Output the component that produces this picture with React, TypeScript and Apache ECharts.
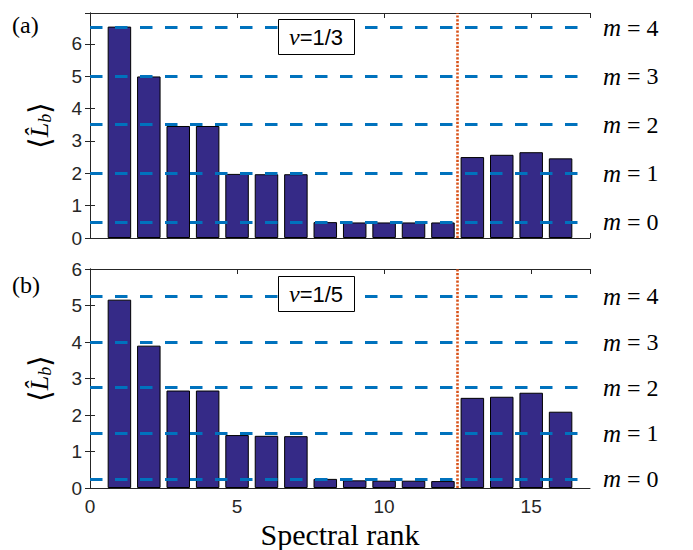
import React, { useEffect, useRef } from "react";
import * as echarts from "echarts";

const ranks = [1, 2, 3, 4, 5, 6, 7, 8, 9, 10, 11, 12, 13, 14, 15, 16];
const valuesA = [6.53, 4.99, 3.46, 3.46, 1.98, 1.97, 1.97, 0.49, 0.48, 0.48, 0.48, 0.48, 2.5, 2.57, 2.65, 2.46];
const valuesB = [5.16, 3.9, 2.67, 2.67, 1.45, 1.43, 1.42, 0.25, 0.21, 0.2, 0.2, 0.19, 2.47, 2.5, 2.61, 2.09];
const levelsA = [0.5, 2, 3.5, 5, 6.5];
const levelsB = [0.25, 1.5, 2.75, 4, 5.25];
const mValues = [0, 1, 2, 3, 4];
const cutoff = 12.5;
const panelLabels = ["(a)", "(b)"];
const nuLabels = ["1/3", "1/5"];
const xName = "Spectral rank";

const AXIS = "#262626";
const BAR = "#352A87";
const BLUE = "#0072BD";
const RED = "#D95319";
const SANS = "Liberation Sans, Arial, sans-serif";
const SERIF = "Liberation Serif, DejaVu Serif, serif";

export default function App() {
  const ref = useRef<HTMLDivElement>(null);
  useEffect(() => {
    const chart = echarts.init(ref.current!, null, { renderer: "svg" });
    const grids = [
      { left: 90, right: 103, top: 13, height: 225 },
      { left: 90, right: 103, top: 269, height: 225 },
    ];
    const yMax = [6.95, 6];
    const mkX = (gi: number, pos: "bottom" | "top", labels: boolean) => ({
      type: "value",
      gridIndex: gi,
      position: pos,
      min: 0,
      max: 17,
      interval: 5,
      axisLine: { show: true, onZero: false, lineStyle: { color: AXIS, width: 1 } },
      axisTick: { show: true, inside: true, length: 5, lineStyle: { color: AXIS } },
      axisLabel: {
        show: labels,
        showMaxLabel: false,
        color: AXIS,
        fontFamily: SANS,
        fontSize: 19,
        margin: 9,
      },
      splitLine: { show: false },
      ...(labels && gi === 1
        ? {
            name: xName,
            nameLocation: "middle",
            nameGap: 31,
            nameTextStyle: { fontFamily: SERIF, fontSize: 30, color: "#000" },
          }
        : {}),
    });
    const mkY = (gi: number, pos: "left" | "right", labels: boolean) => ({
      type: "value",
      gridIndex: gi,
      position: pos,
      min: 0,
      max: yMax[gi],
      interval: 1,
      axisLine: { show: true, lineStyle: { color: AXIS, width: 1 } },
      axisTick: { show: true, inside: true, length: 5, lineStyle: { color: AXIS } },
      axisLabel: {
        show: labels,
        showMaxLabel: gi === 1,
        color: AXIS,
        fontFamily: SANS,
        fontSize: 19,
        margin: 8,
      },
      splitLine: { show: false },
      ...(labels
        ? {
            name: "{b|⟨}{L|L̂}{s|b}{b|⟩}",
            nameLocation: "middle",
            nameRotate: 90,
            nameGap: 36,
            nameTextStyle: {
              color: "#000",
              rich: {
                b: { fontFamily: "DejaVu Sans, sans-serif", fontWeight: 200, fontSize: 30, color: "#000" },
                L: { fontFamily: SERIF, fontStyle: "italic", fontSize: 26, color: "#000" },
                s: { fontFamily: SERIF, fontStyle: "italic", fontSize: 18, color: "#000", verticalAlign: "bottom", padding: [10, 0, 0, 0] },
              },
            },
          }
        : {}),
    });
    const mkSeries = (gi: number, vals: number[], levels: number[]) => ({
      type: "bar",
      xAxisIndex: gi * 2,
      yAxisIndex: gi * 2,
      data: ranks.map((r, i) => [r, vals[i]]),
      barWidth: 23.5,
      itemStyle: { color: BAR, borderColor: "#000", borderWidth: 1 },
      markLine: {
        silent: true,
        symbol: "none",
        animation: false,
        data: [
          ...levels.map((lv, i) => ({
            yAxis: lv,
            lineStyle: { color: BLUE, width: 2.8, type: [12.5, 12.5] },
            label: {
              show: true,
              position: "end",
              distance: 13,
              formatter: "{i|m}{t| = " + mValues[i] + "}",
              color: "#000",
              rich: {
                i: { fontFamily: SERIF, fontStyle: "italic", fontSize: 25, color: "#000" },
                t: { fontFamily: SERIF, fontSize: 24, color: "#000" },
              },
            },
          })),
          {
            xAxis: cutoff,
            lineStyle: { color: RED, width: 2.6, type: [2.2, 1.6] },
            label: { show: false },
          },
        ],
      },
    });
    const nuTitle = (i: number, top: number) => ({
      text: "{n|ν}{t|=" + nuLabels[i] + "}",
      left: 278,
      top,
      borderColor: "#000",
      borderWidth: 1,
      backgroundColor: "#fff",
      padding: [6, 12, 6, 11],
      textStyle: {
        fontWeight: "normal",
        rich: {
          n: { fontFamily: SERIF, fontStyle: "italic", fontWeight: "normal", fontSize: 24, color: "#000" },
          t: { fontFamily: SANS, fontWeight: "normal", fontSize: 22, color: "#000" },
        },
      },
    });
    const panelTitle = (i: number, top: number) => ({
      text: panelLabels[i],
      left: 12,
      top,
      padding: 0,
      textStyle: { fontFamily: SERIF, fontWeight: "normal", fontSize: 24, color: "#000" },
    });
    chart.setOption({
      animation: false,
      backgroundColor: "#fff",
      grid: grids,
      xAxis: [mkX(0, "bottom", false), mkX(0, "top", false), mkX(1, "bottom", true), mkX(1, "top", false)],
      yAxis: [mkY(0, "left", true), mkY(0, "right", false), mkY(1, "left", true), mkY(1, "right", false)],
      title: [panelTitle(0, 13), panelTitle(1, 273), nuTitle(0, 19), nuTitle(1, 276)],
      series: [mkSeries(0, valuesA, levelsA), mkSeries(1, valuesB, levelsB)],
    });
    return () => chart.dispose();
  }, []);
  return (
    <div
      ref={ref}
      style={{ position: "fixed", left: 0, top: 0, width: 693, height: 550 }}
    />
  );
}
